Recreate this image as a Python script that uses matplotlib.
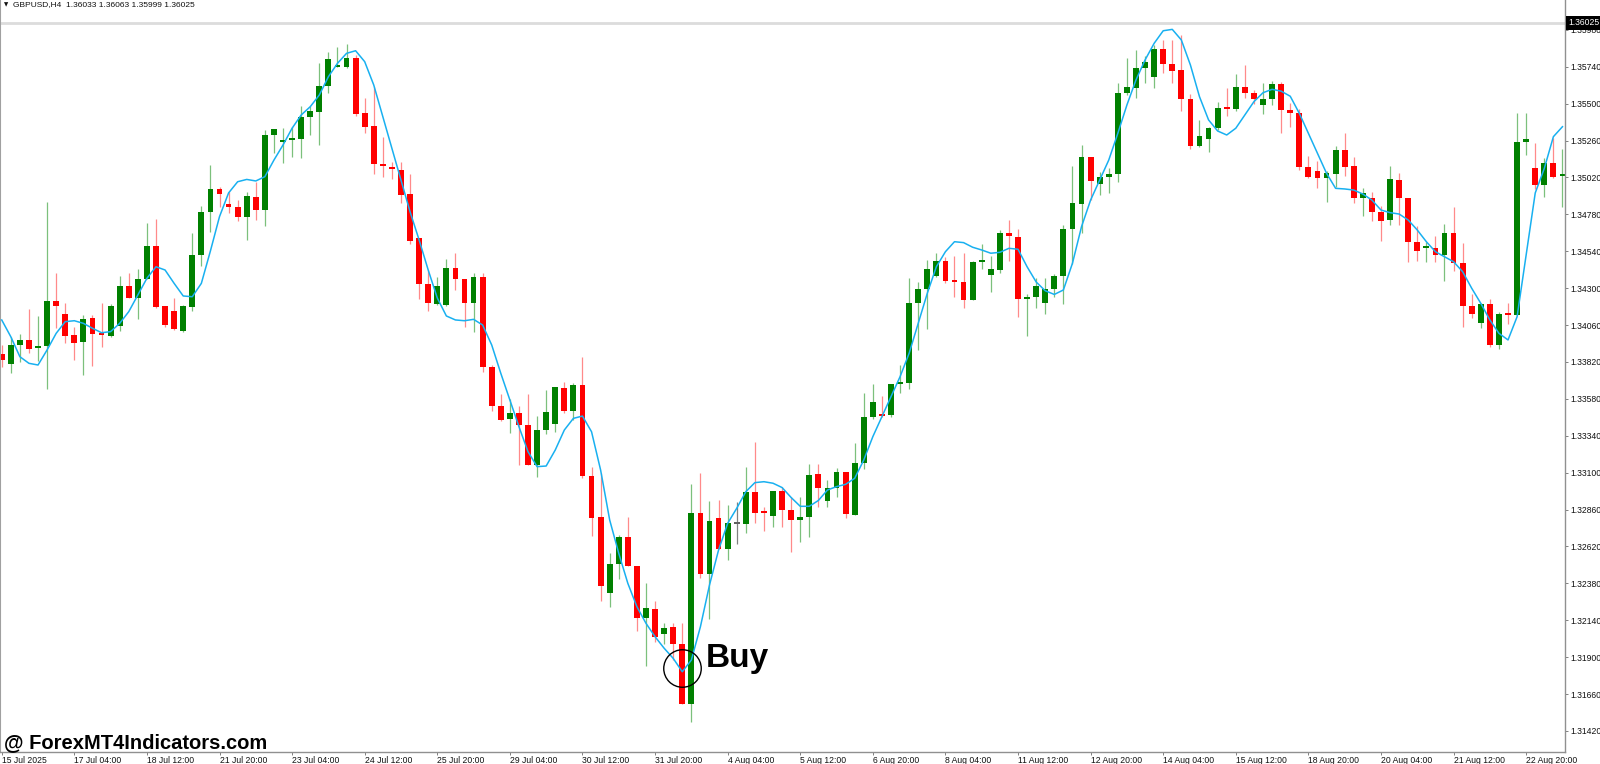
import matplotlib
matplotlib.use("Agg")
import matplotlib.pyplot as plt
import numpy as np

# GBPUSD H4 candles
header_text = "GBPUSD,H4  1.36033 1.36063 1.35999 1.36025"
last_price = 1.36025

date_labels = ["15 Jul 2025", "17 Jul 04:00", "18 Jul 12:00", "21 Jul 20:00", "23 Jul 04:00",
               "24 Jul 12:00", "25 Jul 20:00", "29 Jul 04:00", "30 Jul 12:00", "31 Jul 20:00",
               "4 Aug 04:00", "5 Aug 12:00", "6 Aug 20:00", "8 Aug 04:00", "11 Aug 12:00",
               "12 Aug 20:00", "14 Aug 04:00", "15 Aug 12:00", "18 Aug 20:00", "20 Aug 04:00",
               "21 Aug 12:00", "22 Aug 20:00"]
bars_per_label = 8

price_ticks = [1.35980, 1.35740, 1.35500, 1.35260, 1.35020, 1.34780, 1.34540, 1.34300,
               1.34060, 1.33820, 1.33580, 1.33340, 1.33100, 1.32860, 1.32620, 1.32380,
               1.32140, 1.31900, 1.31660, 1.31420]

opens = [1.33872, 1.33805, 1.33930, 1.33961, 1.33909, 1.33924, 1.34216, 1.34134, 1.33995, 1.33950,
         1.34106, 1.34010, 1.33989, 1.34056, 1.34312, 1.34234, 1.34361, 1.34576, 1.34184, 1.34149,
         1.34023, 1.34179, 1.34517, 1.34793, 1.34945, 1.34844, 1.34828, 1.34763, 1.34895, 1.34808,
         1.35294, 1.35249, 1.35265, 1.35268, 1.35413, 1.35447, 1.35615, 1.35736, 1.35736, 1.35795,
         1.35437, 1.35353, 1.35105, 1.35081, 1.35068, 1.34910, 1.34624, 1.34330, 1.34197, 1.34190,
         1.34433, 1.34359, 1.34205, 1.34374, 1.33785, 1.33535, 1.33447, 1.33488, 1.33410, 1.33148,
         1.33377, 1.33414, 1.33650, 1.33501, 1.33670, 1.33081, 1.32813, 1.32315, 1.32506, 1.32679,
         1.32495, 1.32157, 1.32215, 1.32049, 1.32094, 1.31984, 1.31595, 1.32839, 1.32441, 1.32803,
         1.32603, 1.32766, 1.32768, 1.32972, 1.32846, 1.32820, 1.32983, 1.32854, 1.32792, 1.32809,
         1.33089, 1.32917, 1.32998, 1.33106, 1.32824, 1.33165, 1.33464, 1.33479, 1.33473, 1.33677,
         1.33685, 1.34201, 1.34292, 1.34379, 1.34478, 1.34346, 1.34342, 1.34223, 1.34468, 1.34383,
         1.34418, 1.34657, 1.34635, 1.34227, 1.34240, 1.34205, 1.34296, 1.34379, 1.34683, 1.34847,
         1.35151, 1.34975, 1.35021, 1.35042, 1.35567, 1.35604, 1.35730, 1.35671, 1.35855, 1.35756,
         1.35719, 1.35530, 1.35224, 1.35270, 1.35343, 1.35470, 1.35463, 1.35610, 1.35567, 1.35489,
         1.35530, 1.35626, 1.35459, 1.35437, 1.35090, 1.35062, 1.35018, 1.35042, 1.35198, 1.35094,
         1.34884, 1.34884, 1.34797, 1.34743, 1.35003, 1.34888, 1.34602, 1.34559, 1.34559, 1.34515,
         1.34657, 1.34461, 1.34186, 1.34075, 1.34197, 1.33930, 1.34134, 1.34125, 1.35252, 1.35081,
         1.34971, 1.35112, 1.35029]

highs = [1.33930, 1.33984, 1.34000, 1.34162, 1.34119, 1.34858, 1.34400, 1.34201, 1.34049, 1.34125,
         1.34125, 1.34201, 1.34197, 1.34379, 1.34400, 1.34422, 1.34722, 1.34748, 1.34184, 1.34236,
         1.34190, 1.34661, 1.34836, 1.35101, 1.34960, 1.34923, 1.34873, 1.34923, 1.34992, 1.35329,
         1.35333, 1.35343, 1.35346, 1.35485, 1.35485, 1.35764, 1.35838, 1.35866, 1.35886, 1.35816,
         1.35539, 1.35606, 1.35281, 1.35122, 1.35122, 1.35042, 1.34626, 1.34418, 1.34374, 1.34490,
         1.34527, 1.34359, 1.34396, 1.34400, 1.33800, 1.33611, 1.33577, 1.33533, 1.33611, 1.33468,
         1.33637, 1.33655, 1.33691, 1.33681, 1.33854, 1.33137, 1.33096, 1.32579, 1.32694, 1.32813,
         1.32495, 1.32384, 1.32265, 1.32124, 1.32124, 1.32124, 1.33026, 1.33100, 1.32917, 1.32922,
         1.32888, 1.32911, 1.33135, 1.33297, 1.32874, 1.32983, 1.33009, 1.32943, 1.32943, 1.33156,
         1.33154, 1.33052, 1.33132, 1.33106, 1.33291, 1.33616, 1.33677, 1.33598, 1.33677, 1.33800,
         1.34364, 1.34342, 1.34483, 1.34527, 1.34501, 1.34509, 1.34527, 1.34476, 1.34585, 1.34509,
         1.34678, 1.34743, 1.34685, 1.34262, 1.34364, 1.34364, 1.34392, 1.34711, 1.35094, 1.35231,
         1.35155, 1.35057, 1.35079, 1.35632, 1.35795, 1.35849, 1.35810, 1.35881, 1.35914, 1.35914,
         1.35946, 1.35563, 1.35394, 1.35350, 1.35511, 1.35600, 1.35693, 1.35751, 1.35589, 1.35636,
         1.35649, 1.35643, 1.35502, 1.35463, 1.35159, 1.35129, 1.35062, 1.35224, 1.35307, 1.35151,
         1.34953, 1.34927, 1.34834, 1.35094, 1.35051, 1.34888, 1.34704, 1.34602, 1.34641, 1.34715,
         1.34826, 1.34592, 1.34260, 1.34205, 1.34227, 1.34147, 1.34201, 1.35437, 1.35437, 1.35246,
         1.35148, 1.35275, 1.35203]

lows = [1.33787, 1.33746, 1.33818, 1.33880, 1.33826, 1.33642, 1.34039, 1.33945, 1.33833, 1.33735,
        1.33794, 1.33919, 1.33984, 1.34023, 1.34236, 1.34097, 1.34358, 1.34169, 1.34049, 1.34028,
        1.34017, 1.34153, 1.34444, 1.34663, 1.34830, 1.34787, 1.34737, 1.34610, 1.34743, 1.34704,
        1.35181, 1.35116, 1.35155, 1.35148, 1.35296, 1.35231, 1.35567, 1.35735, 1.35734, 1.35421,
        1.35307, 1.35042, 1.35021, 1.35010, 1.34856, 1.34587, 1.34229, 1.34153, 1.34190, 1.34186,
        1.34288, 1.34049, 1.34017, 1.33756, 1.33503, 1.33438, 1.33360, 1.33148, 1.33148, 1.33070,
        1.33351, 1.33366, 1.33486, 1.33442, 1.33063, 1.32690, 1.32267, 1.32228, 1.32406, 1.32493,
        1.32072, 1.31844, 1.32000, 1.31985, 1.31881, 1.31595, 1.31478, 1.32413, 1.32146, 1.32603,
        1.32532, 1.32636, 1.32709, 1.32770, 1.32722, 1.32744, 1.32744, 1.32586, 1.32651, 1.32679,
        1.32878, 1.32874, 1.32943, 1.32803, 1.32824, 1.33122, 1.33447, 1.33464, 1.33460, 1.33620,
        1.33642, 1.33898, 1.34032, 1.34374, 1.34331, 1.34240, 1.34173, 1.34223, 1.34422, 1.34273,
        1.34400, 1.34478, 1.34114, 1.33989, 1.34169, 1.34130, 1.34244, 1.34197, 1.34457, 1.34657,
        1.34873, 1.34906, 1.34921, 1.34992, 1.35556, 1.35535, 1.35632, 1.35604, 1.35701, 1.35632,
        1.35454, 1.35203, 1.35220, 1.35187, 1.35329, 1.35420, 1.35454, 1.35535, 1.35496, 1.35431,
        1.35491, 1.35307, 1.35346, 1.35068, 1.35014, 1.34953, 1.34862, 1.34956, 1.35029, 1.34852,
        1.34769, 1.34739, 1.34609, 1.34711, 1.34711, 1.34472, 1.34478, 1.34472, 1.34472, 1.34348,
        1.34413, 1.34049, 1.34104, 1.34043, 1.33919, 1.33902, 1.34065, 1.34125, 1.35166, 1.34943,
        1.34895, 1.35018, 1.34830]

closes = [1.33833, 1.33928, 1.33961, 1.33904, 1.33924, 1.34216, 1.34186, 1.33989, 1.33945, 1.34101,
          1.34002, 1.33995, 1.34184, 1.34314, 1.34236, 1.34361, 1.34574, 1.34179, 1.34060, 1.34032,
          1.34184, 1.34517, 1.34793, 1.34943, 1.34910, 1.34828, 1.34763, 1.34897, 1.34808, 1.35296,
          1.35333, 1.35263, 1.35272, 1.35413, 1.35452, 1.35617, 1.35790, 1.35740, 1.35795, 1.35435,
          1.35350, 1.35105, 1.35096, 1.35073, 1.34906, 1.34607, 1.34330, 1.34203, 1.34317, 1.34433,
          1.34357, 1.34205, 1.34374, 1.33785, 1.33535, 1.33442, 1.33488, 1.33410, 1.33148, 1.33377,
          1.33494, 1.33655, 1.33501, 1.33668, 1.33080, 1.32808, 1.32365, 1.32506, 1.32679, 1.32493,
          1.32157, 1.32218, 1.32029, 1.32091, 1.31984, 1.31595, 1.32836, 1.32441, 1.32787, 1.32603,
          1.32770, 1.32766, 1.32972, 1.32839, 1.32839, 1.32983, 1.32854, 1.32792, 1.32809, 1.33087,
          1.33003, 1.33002, 1.33106, 1.32829, 1.33165, 1.33464, 1.33561, 1.33470, 1.33677, 1.33688,
          1.34201, 1.34292, 1.34424, 1.34476, 1.34346, 1.34338, 1.34221, 1.34472, 1.34476, 1.34422,
          1.34657, 1.34639, 1.34227, 1.34240, 1.34314, 1.34296, 1.34379, 1.34683, 1.34852, 1.35151,
          1.34997, 1.35021, 1.35042, 1.35571, 1.35606, 1.35730, 1.35769, 1.35855, 1.35758, 1.35714,
          1.35528, 1.35224, 1.35291, 1.35340, 1.35474, 1.35463, 1.35610, 1.35571, 1.35530, 1.35530,
          1.35628, 1.35459, 1.35437, 1.35086, 1.35025, 1.35018, 1.35047, 1.35198, 1.35090, 1.34884,
          1.34921, 1.34797, 1.34737, 1.35008, 1.34888, 1.34602, 1.34542, 1.34570, 1.34515, 1.34657,
          1.34461, 1.34184, 1.34130, 1.34197, 1.33930, 1.34130, 1.34125, 1.35252, 1.35273, 1.34971,
          1.35112, 1.35025, 1.35042]

# the blue moving average line
ma_values = [1.34093, 1.33984, 1.33854, 1.33811, 1.33800, 1.33898, 1.34006, 1.34082, 1.34088, 1.34071,
             1.34039, 1.34010, 1.34017, 1.34071, 1.34147, 1.34255, 1.34364, 1.34439, 1.34418, 1.34331,
             1.34249, 1.34244, 1.34331, 1.34542, 1.34765, 1.34919, 1.34992, 1.35007, 1.34997, 1.35025,
             1.35133, 1.35231, 1.35340, 1.35426, 1.35480, 1.35556, 1.35675, 1.35762, 1.35827, 1.35844,
             1.35773, 1.35621, 1.35415, 1.35209, 1.35003, 1.34797, 1.34613, 1.34418, 1.34236, 1.34119,
             1.34093, 1.34088, 1.34097, 1.34060, 1.33930, 1.33746, 1.33572, 1.33399, 1.33236, 1.33139,
             1.33143, 1.33247, 1.33377, 1.33453, 1.33468, 1.33366, 1.33117, 1.32792, 1.32575, 1.32380,
             1.32228, 1.32120, 1.32033, 1.31958, 1.31892, 1.31805, 1.31881, 1.32098, 1.32369, 1.32597,
             1.32770, 1.32868, 1.32976, 1.33035, 1.33041, 1.33031, 1.33003, 1.32938, 1.32881, 1.32881,
             1.32919, 1.32987, 1.33009, 1.33024, 1.33063, 1.33182, 1.33334, 1.33464, 1.33594, 1.33724,
             1.33876, 1.34071, 1.34266, 1.34439, 1.34537, 1.34602, 1.34596, 1.34566, 1.34548, 1.34527,
             1.34533, 1.34559, 1.34553, 1.34439, 1.34340, 1.34283, 1.34259, 1.34288, 1.34462, 1.34700,
             1.34873, 1.35003, 1.35133, 1.35307, 1.35491, 1.35654, 1.35784, 1.35892, 1.35974, 1.35983,
             1.35914, 1.35751, 1.35545, 1.35394, 1.35322, 1.35296, 1.35340, 1.35426, 1.35513, 1.35571,
             1.35593, 1.35581, 1.35548, 1.35437, 1.35307, 1.35177, 1.35047, 1.34949, 1.34945, 1.34938,
             1.34912, 1.34873, 1.34808, 1.34791, 1.34782, 1.34743, 1.34678, 1.34602, 1.34537, 1.34504,
             1.34472, 1.34407, 1.34299, 1.34201, 1.34093, 1.34006, 1.33963, 1.34114, 1.34515, 1.34919,
             1.35079, 1.35285, 1.35350]

# the "Buy" mark
buy_bar = 75
buy_price = 1.31830
buy_text_bar = 77.6
buy_text_price = 1.31838

plt.rcParams['font.family'] = ['Liberation Sans', 'DejaVu Sans']

fig = plt.figure(figsize=(16, 7.64), dpi=100)
fig.patch.set_facecolor('white')
ax = fig.add_axes([0.0, 12 / 764, 1565 / 1600, 752 / 764])

o = np.array(opens)
h = np.array(highs)
l = np.array(lows)
c = np.array(closes)
x = np.arange(len(o))

up = c > o
down = c < o
flat = c == o

# wicks
ax.vlines(x[up], l[up], h[up], color='#7cc07c', lw=0.9, zorder=1)
ax.vlines(x[down], l[down], h[down], color='#ff8a8a', lw=0.9, zorder=1)
ax.vlines(x[flat], l[flat], h[flat], color='#808080', lw=0.9, zorder=1)

# bodies (small ones get a minimum height so they stay visible)
body_bottom = np.minimum(o, c)
body_height = np.maximum(np.abs(c - o), 0.00012)
ax.bar(x[up], body_height[up], bottom=body_bottom[up], width=0.64, color='#008000',
       edgecolor='none', zorder=2)
ax.bar(x[down], body_height[down], bottom=body_bottom[down], width=0.64, color='#ff0000',
       edgecolor='none', zorder=2)
ax.bar(x[flat], body_height[flat], bottom=body_bottom[flat], width=0.64, color='#606060',
       edgecolor='none', zorder=2)

ax.plot(x, ma_values, color='#18b0f0', lw=1.1, zorder=3)

# bid line
ax.axhline(last_price, color='#dcdcdc', lw=2, zorder=0)

# buy circle and text
ax.plot([buy_bar], [buy_price], marker='o', markersize=27, markerfacecolor='none',
        markeredgecolor='black', markeredgewidth=1.0, zorder=4)
ax.text(buy_text_bar, buy_text_price, "Buy", fontsize=24, fontweight='bold', color='black',
        va='baseline', ha='left', zorder=5)

ax.set_xlim(-0.19, 172.28)
ax.set_ylim(1.31283, 1.36174)

ax.yaxis.tick_right()
ax.set_yticks(price_ticks)
ax.set_yticklabels(["%.5f" % p for p in price_ticks])
ax.set_xticks(np.arange(0, bars_per_label * len(date_labels), bars_per_label))
ax.set_xticklabels(date_labels)
for lab in ax.get_xticklabels():
    lab.set_ha('left')

ax.tick_params(axis='both', direction='out', length=2.2, width=0.7, color='#808080',
               labelsize=6.2, labelcolor='#111111')
ax.tick_params(axis='x', pad=0.5)
ax.tick_params(axis='y', pad=1.5)

ax.spines['top'].set_visible(False)
ax.spines['left'].set_color('#a0a0a0')
ax.spines['left'].set_linewidth(1.5)
ax.spines['right'].set_color('#909090')
ax.spines['right'].set_linewidth(1.0)
ax.spines['bottom'].set_color('#909090')
ax.spines['bottom'].set_linewidth(1.0)

# price box on the right axis
ax.annotate("%.5f" % last_price, xy=(1.0, last_price), xycoords=('axes fraction', 'data'),
            xytext=(2.5, 0), textcoords='offset points', ha='left', va='center',
            color='white', fontsize=6.2, annotation_clip=False, zorder=6,
            bbox=dict(boxstyle='square,pad=0.25', fc='black', ec='none'))

# header and watermark
fig.text(4 / 1600, 1 - 5 / 764, "\u25BC", fontsize=4, va='center', ha='left', color='#111111',
         family=['DejaVu Sans'])
fig.text(13 / 1600, 1 - 5 / 764, header_text, fontsize=6, va='center', ha='left', color='#111111')
fig.text(4 / 1600, 1 - 748 / 764, "@ ForexMT4Indicators.com", fontsize=14.5, fontweight='bold',
         va='baseline', ha='left', color='black')

fig.savefig("out.png", dpi=100, facecolor='white')
